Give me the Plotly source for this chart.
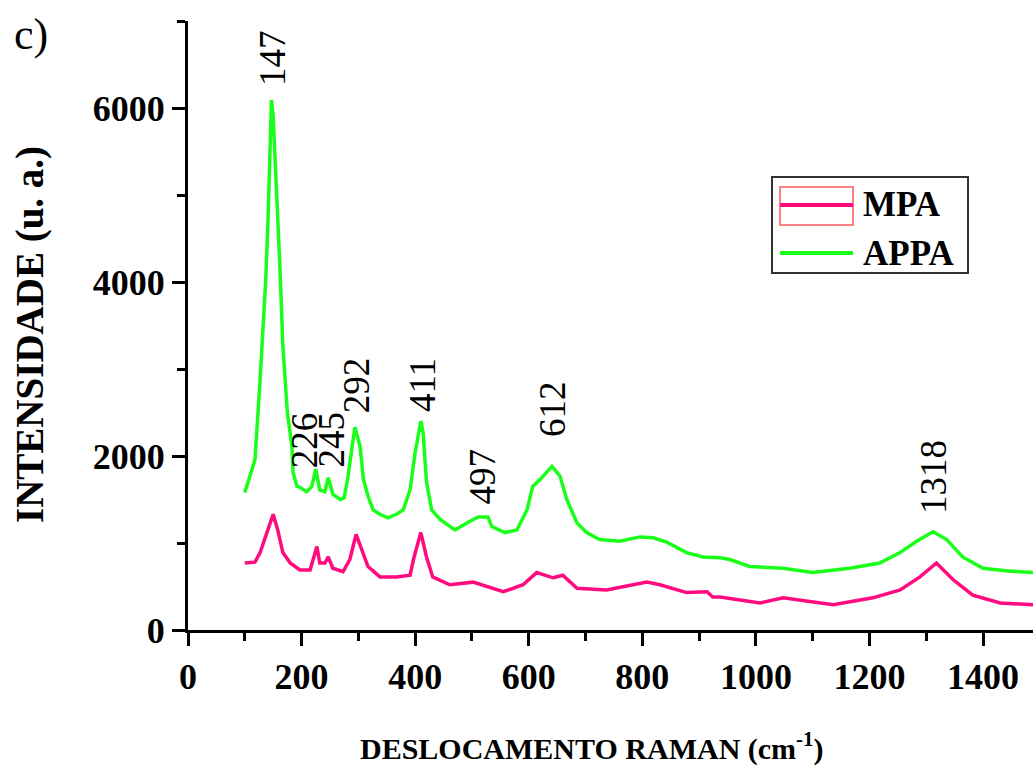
import plotly.graph_objects as go

# APPA (green) spectrum
appa_x = [100, 118, 127, 132, 137, 141, 144, 147, 150, 158, 162, 167, 175, 183, 185, 192, 197, 209, 218,
          225, 232, 241, 247, 255, 268, 275, 282, 289, 294, 303, 309, 317, 326, 338, 352, 367, 379, 391,
          400, 410, 414, 420, 429, 444, 470, 491, 511, 528, 535, 558, 579, 597, 607, 620, 641, 655, 667,
          685, 702, 725, 760, 796, 819, 843, 878, 907, 937, 954, 989, 1048, 1100, 1165, 1218, 1254, 1283,
          1312, 1336, 1364, 1400, 1440, 1488]
appa_y = [1580, 1960, 2880, 3430, 4040, 4730, 5570, 6090, 5900, 4810, 4150, 3270, 2500, 2110, 1810, 1650,
          1640, 1590, 1650, 1850, 1610, 1590, 1750, 1560, 1500, 1520, 1770, 2110, 2330, 2110, 1730, 1540,
          1380, 1330, 1290, 1330, 1380, 1610, 2040, 2400, 2270, 1700, 1380, 1270, 1150, 1230, 1300, 1300,
          1190, 1120, 1150, 1380, 1650, 1730, 1880, 1770, 1500, 1230, 1120, 1040, 1020, 1070, 1060, 1010,
          890, 840, 830, 810, 730, 710, 660, 710, 770, 890, 1020, 1130, 1040, 840, 710, 680, 660]

# MPA (pink) spectrum
mpa_x = [100, 118, 127, 139, 150, 158, 167, 180, 197, 215, 220, 227, 232, 241, 247, 255, 273, 285, 296,
         306, 317, 338, 367, 391, 397, 410, 412, 420, 431, 461, 502, 555, 590, 614, 643, 660, 685, 737,
         808, 831, 878, 914, 924, 937, 1007, 1048, 1136, 1206, 1254, 1289, 1318, 1347, 1382, 1430, 1488]
mpa_y = [770, 780, 890, 1120, 1330, 1150, 890, 770, 690, 690, 810, 960, 770, 770, 840, 710, 670, 810, 1100,
         920, 730, 610, 610, 630, 810, 1120, 1070, 840, 610, 520, 550, 440, 520, 660, 600, 630, 480, 460,
         550, 520, 430, 440, 380, 380, 310, 370, 290, 370, 460, 610, 770, 580, 400, 310, 290]

# Peak labels
peak_labels = ["147", "226", "245", "292", "411", "497", "612", "1318"]
peak_lx = [148, 204, 252, 296, 412, 518, 641, 1313]
peak_ly = [6574, 2180, 2190, 2815, 2815, 1765, 2540, 1753]

series_names = ["MPA", "APPA"]
x_ticks = [0, 200, 400, 600, 800, 1000, 1200, 1400]
y_ticks = [0, 2000, 4000, 6000]

PINK = "#ff0a7f"
GREEN = "#1aff1a"
FONT = "Liberation Serif"

fig = go.Figure()
fig.add_trace(go.Scatter(x=mpa_x, y=mpa_y, mode="lines", name=series_names[0],
                         line=dict(color=PINK, width=3.5), showlegend=False))
fig.add_trace(go.Scatter(x=appa_x, y=appa_y, mode="lines", name=series_names[1],
                         line=dict(color=GREEN, width=3.5), showlegend=False))

L, T, B, W, H = 188, 21, 141, 1033, 771
PW, PH = W - L, H - T - B

def px2paper(px, py):
    return (px - L) / PW, (H - B - py) / PH

annotations = []
for txt, lx, ly in zip(peak_labels, peak_lx, peak_ly):
    annotations.append(dict(x=lx, y=ly, xref="x", yref="y", text=txt, showarrow=False,
                            textangle=-90, xanchor="center", yanchor="middle",
                            font=dict(family=FONT, size=37, color="black")))

# axis titles
ax, ay = px2paper(592, 746)
annotations.append(dict(x=ax, y=ay, xref="paper", yref="paper", showarrow=False,
                        text="<b>DESLOCAMENTO RAMAN (cm<sup>-1</sup>)</b>",
                        xanchor="center", yanchor="middle",
                        font=dict(family=FONT, size=30, color="black")))
ax, ay = px2paper(30, 335)
annotations.append(dict(x=ax, y=ay, xref="paper", yref="paper", showarrow=False,
                        text="<b>INTENSIDADE (u. a.)</b>", textangle=-90,
                        xanchor="center", yanchor="middle",
                        font=dict(family=FONT, size=39, color="black")))
# panel label
ax, ay = px2paper(31, 35)
annotations.append(dict(x=ax, y=ay, xref="paper", yref="paper", showarrow=False,
                        text="c)", xanchor="center", yanchor="middle",
                        font=dict(family=FONT, size=44, color="black")))

# legend (manual)
shapes = []
x0, y0 = px2paper(772, 177)
x1, y1 = px2paper(968, 273)
shapes.append(dict(type="rect", xref="paper", yref="paper", x0=x0, y0=y0, x1=x1, y1=y1,
                   line=dict(color="#333333", width=2), fillcolor="white"))
rx0, ry0 = px2paper(780, 187)
rx1, ry1 = px2paper(853, 225)
shapes.append(dict(type="rect", xref="paper", yref="paper", x0=rx0, y0=ry0, x1=rx1, y1=ry1,
                   line=dict(color="#ff5a5a", width=1.5)))
for py, col, name in [(205, PINK, series_names[0]), (253, GREEN, series_names[1])]:
    lx0, ly = px2paper(780, py)
    lx1, _ = px2paper(853, py)
    shapes.append(dict(type="line", xref="paper", yref="paper", x0=lx0, y0=ly, x1=lx1, y1=ly,
                       line=dict(color=col, width=4)))
    tx, _ = px2paper(861, py)
    annotations.append(dict(x=tx, y=ly, xref="paper", yref="paper", showarrow=False,
                            text="<b>" + name + "</b>", xanchor="left", yanchor="middle",
                            font=dict(family=FONT, size=35, color="black")))

fig.update_layout(
    width=W, height=H,
    margin=dict(l=L, r=0, t=T, b=B),
    paper_bgcolor="white", plot_bgcolor="white",
    showlegend=False,
    annotations=annotations, shapes=shapes,
    font=dict(family=FONT, color="black"),
)
fig.update_xaxes(range=[0, 1488], tickvals=x_ticks, ticktext=["<b>%d</b>" % v for v in x_ticks],
                 ticks="outside", ticklen=13, tickwidth=3, tickcolor="black",
                 showline=True, linewidth=3, linecolor="black", showgrid=False, zeroline=False,
                 tickfont=dict(family=FONT, size=36, color="black"),
                 minor=dict(dtick=100, tick0=0, ticks="outside", ticklen=8, tickwidth=3,
                            tickcolor="black", showgrid=False))
fig.update_yaxes(range=[0, 7000], tickvals=y_ticks, ticktext=["<b>%d</b>" % v for v in y_ticks],
                 ticks="outside", ticklen=13, tickwidth=3, tickcolor="black",
                 showline=True, linewidth=3, linecolor="black", showgrid=False, zeroline=False,
                 tickfont=dict(family=FONT, size=36, color="black"),
                 minor=dict(dtick=1000, tick0=0, ticks="outside", ticklen=8, tickwidth=3,
                            tickcolor="black", showgrid=False))

fig.write_html("out.html")
